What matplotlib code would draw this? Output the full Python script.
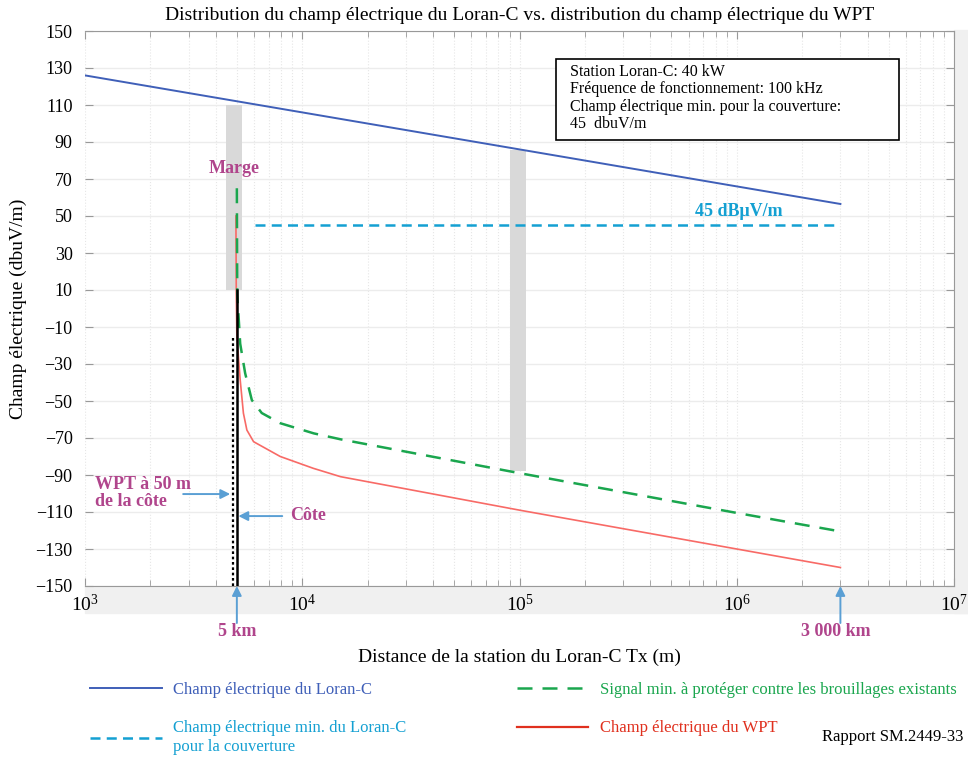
import matplotlib
matplotlib.use("Agg")
import matplotlib.pyplot as plt
from matplotlib.patches import Rectangle
from matplotlib.ticker import LogLocator, FixedLocator
import numpy as np

plt.rcParams['font.family'] = ['Liberation Serif', 'DejaVu Serif']
plt.rcParams['mathtext.fontset'] = 'stix'

# field strength curves (distance in m, field in dBuV/m)
loran_x = [1e3, 1e4, 1e5, 1e6, 3e6]
loran_y = [126, 106, 86, 66, 56.5]

min_cov_x = [6.07e3, 2.86e6]
min_cov_y = [45, 45]

protect_x = [5000, 5020, 5180, 5460, 5860, 6510, 7920, 1.13e4, 1.5e4, 1e5, 1e6, 3e6]
protect_y = [65, 8, -19, -35, -49.5, -56.5, -62, -67.5, -70.7, -89, -110.5, -120.5]

wpt_x = [4950, 4970, 5000, 5180, 5360, 5560, 5970, 7920, 1.125e4, 1.5e4, 1e5, 1e6, 3e6]
wpt_y = [50, 8, -15, -38.6, -56.6, -65.7, -72, -80, -86.4, -90.9, -109, -130, -140]

# coast and WPT position
coast_x, coast_top = 5000, 10
wpt_pos_x, wpt_pos_top = 4780, -16

# margin bands
band_left = [4470, 9.08e4]
band_right = [5290, 1.077e5]
band_top = [110, 85.5]
band_bottom = [10, -88]

y_ticks = np.arange(-150, 151, 20)

blue = '#3f5fb8'
cyan = '#14a0d2'
green = '#1aa64e'
red = '#f86a66'
magenta = '#b0458c'
arrow_c = '#5a9fd4'

fig = plt.figure(figsize=(9.68, 7.57), dpi=100)
W, H = 968, 757

# light grey strips round the tick label area
fig.patches.append(Rectangle((85 / W, 1 - 613 / H), (968 - 85) / W, 27 / H,
                             transform=fig.transFigure, color='#f0f0f0', zorder=-1))
fig.patches.append(Rectangle((954 / W, 1 - 613 / H), 14 / W, 583 / H,
                             transform=fig.transFigure, color='#f0f0f0', zorder=-1))

ax = fig.add_axes([85 / W, 1 - 586 / H, 869 / W, 555 / H])
ax.set_xscale('log')
ax.set_xlim(1e3, 1e7)
ax.set_ylim(-150, 150)
ax.yaxis.set_major_locator(FixedLocator(y_ticks))
ax.xaxis.set_major_locator(LogLocator(base=10, numticks=10))
ax.xaxis.set_minor_locator(LogLocator(base=10, subs=np.arange(2, 10), numticks=20))

ax.grid(True, axis='y', which='major', color='#ececec', lw=1)
ax.grid(True, axis='x', which='both', color='#e6e6e6', lw=0.8, ls=':')
ax.set_axisbelow(True)

for name in ['top', 'right', 'bottom']:
    ax.spines[name].set_color('#999999')
ax.spines['left'].set_visible(False)
ax.tick_params(which='both', direction='in', top=True, right=True, color='#999999',
               labelsize=13)
ax.tick_params(which='major', length=6)
ax.tick_params(which='minor', length=4)
ax.tick_params(axis='x', pad=6, labelsize=14)
ax.tick_params(axis='y', pad=9)

# margin bands
for l, r, t, b in zip(band_left, band_right, band_top, band_bottom):
    ax.fill_between([l, r], [b, b], [t, t], color='#d9d9d9', lw=0, zorder=1)

l1, = ax.plot(loran_x, loran_y, color=blue, lw=1.4, zorder=3,
              label='Champ électrique du Loran-C')
l2, = ax.plot(min_cov_x, min_cov_y, color=cyan, lw=1.8, dashes=(4, 2.5), zorder=3,
              label='Champ électrique min. du Loran-C\npour la couverture')
l3, = ax.plot(protect_x, protect_y, color=green, lw=1.8, dashes=(6, 4), zorder=4,
              label='Signal min. à protéger contre les brouillages existants')
l4, = ax.plot(wpt_x, wpt_y, color=red, lw=1.2, zorder=3,
              label='Champ électrique du WPT')

ax.plot([coast_x, coast_x], [-150, coast_top], color='black', lw=1.8, zorder=5)
ax.plot([wpt_pos_x, wpt_pos_x], [-150, wpt_pos_top], color='black', lw=1.6,
        ls=(0, (1.2, 1.2)), zorder=5)

bold = dict(fontweight='bold', fontsize=13)
arrow = dict(arrowstyle='-|>', color=arrow_c, lw=1.4, mutation_scale=14, shrinkA=0, shrinkB=0)

ax.text(4870, 75.9, 'Marge', color=magenta, ha='center', va='center', **bold)
ax.text(1.02e6, 52.2, '45 dBμV/m', color=cyan, ha='center', va='center', **bold)

ax.annotate('', xy=(4660, -100.3), xytext=(2830, -100.3), arrowprops=arrow)
ax.text(1110, -99.7, 'WPT à 50 m\nde la côte', color=magenta, ha='left', va='center',
        linespacing=1.05, **bold)
ax.annotate('', xy=(5080, -112.2), xytext=(8090, -112.2), arrowprops=arrow)
ax.text(8810, -112, 'Côte', color=magenta, ha='left', va='center', **bold)

for xv in [5000, 3e6]:
    ax.annotate('', xy=(xv, -150), xytext=(xv, -170), arrowprops=arrow,
                annotation_clip=False, zorder=6)
ax.text(5000, -174.5, '5 km', color=magenta, ha='center', va='center', clip_on=False, **bold)
ax.text(2.86e6, -174.5, '3 000 km', color=magenta, ha='center', va='center',
        clip_on=False, **bold)

# info box
ax.add_patch(Rectangle((0.542, 0.8036), 0.395, 0.1459, transform=ax.transAxes,
                       fill=True, facecolor='white', edgecolor='black', lw=1.2, zorder=6))
ax.text(0.558, 0.941,
        'Station Loran-C: 40 kW\nFréquence de fonctionnement: 100 kHz\n'
        'Champ électrique min. pour la couverture:\n45  dbuV/m',
        transform=ax.transAxes, ha='left', va='top', fontsize=11.5,
        linespacing=1.12, zorder=7)

ax.set_title('Distribution du champ électrique du Loran-C vs. distribution du champ électrique du WPT',
             fontsize=14, pad=8)
ax.set_xlabel('Distance de la station du Loran-C Tx (m)', fontsize=14, labelpad=24)
ax.set_ylabel('Champ électrique (dbuV/m)', fontsize=14, labelpad=6)

leg = fig.legend(handles=[l1, l2, l3, l4], ncol=2, loc='upper left',
                 bbox_to_anchor=(75 / W, 1 - 667 / H), frameon=False, fontsize=12,
                 handlelength=4.3, handletextpad=0.7, columnspacing=6.6,
                 labelspacing=1.35, labelcolor='linecolor')
leg.get_texts()[3].set_color('#e0301e')
leg.legend_handles[3].set_color('#e0301e')
leg.legend_handles[3].set_linewidth(1.6)

fig.text(963 / W, 1 - 737 / H, 'Rapport SM.2449-33', ha='right', va='center', fontsize=12)

fig.savefig('out.png', dpi=100)
